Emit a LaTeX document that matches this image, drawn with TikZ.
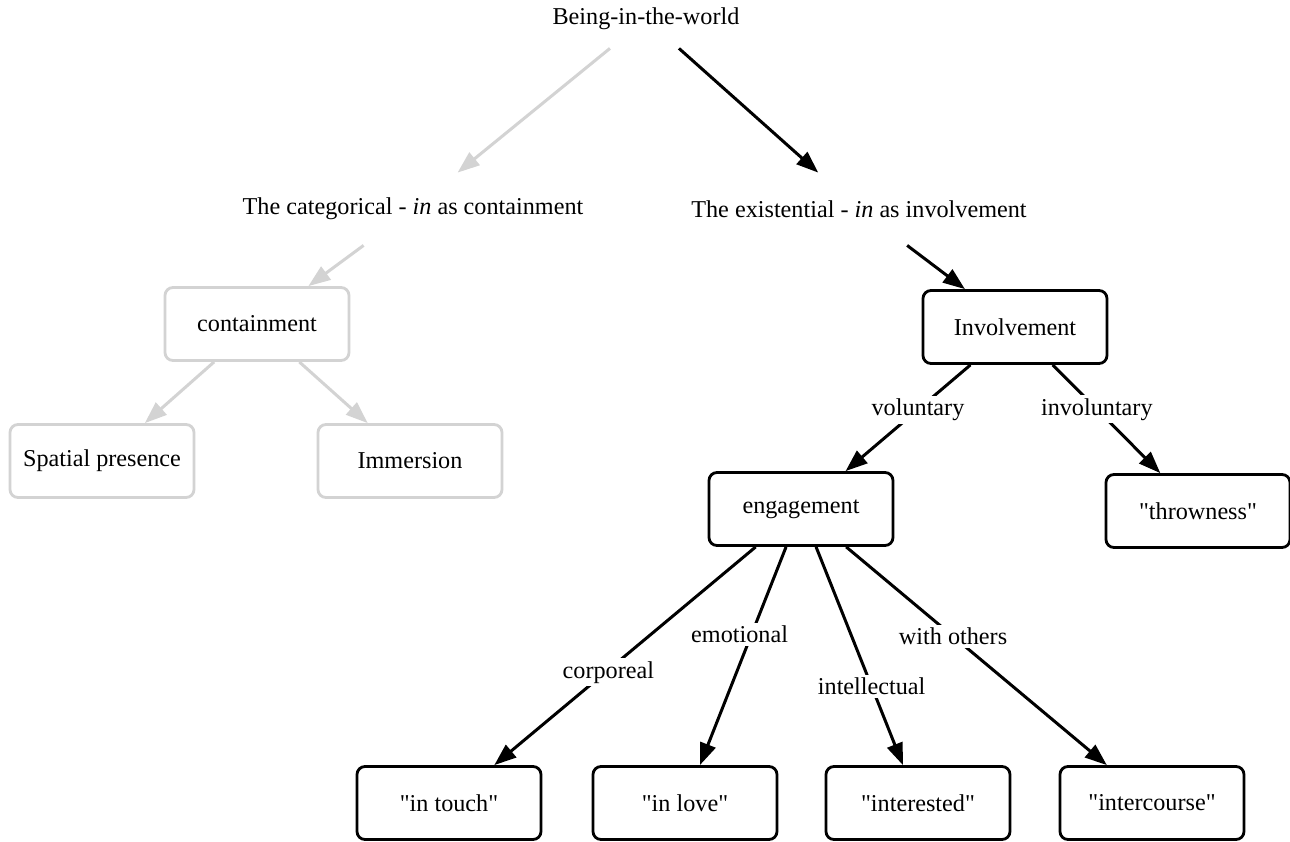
\documentclass[tikz,border=0pt]{standalone}
\usepackage{fontspec}
\setmainfont{Liberation Serif}[Ligatures=TeXOff]
\usetikzlibrary{arrows.meta}
\definecolor{lg}{HTML}{D3D3D3}
\begin{document}
\begin{tikzpicture}[x=0.5pt,y=0.5pt,
  every node/.style={font=\fontsize{12.1}{14}\selectfont},
  txt/.style={minimum height=36pt, inner xsep=2pt},
  box/.style={draw, rounded corners=4pt, line width=1.4pt, minimum width=92pt, minimum height=36.5pt},
  gbox/.style={box, draw=lg},
  conn/.style={line width=1.5pt, -{Triangle[length=11pt,width=8pt]}},
  gconn/.style={conn, draw=lg},
  lbl/.style={fill=white, inner sep=1.5pt}
]
\useasboundingbox (0,0) rectangle (1290,-841);
\fill[white] (0,0) rectangle (1290,-841);

% text nodes
\node[minimum height=29pt, inner xsep=2pt] (being) at (646,-19) {Being-in-the-world};
\node[txt] (cat) at (413,-209) {The categorical - \textit{in} as containment};
\node[txt] (exi) at (859,-209) {The existential - \textit{in} as involvement};

% grey branch
\node[gbox] (cont) at (257,-324) {containment};
\node[gbox] (spat) at (102,-461) {Spatial presence};
\node[gbox] (imm)  at (410,-461) {Immersion};

% black branch
\node[box] (inv)   at (1015,-327) {Involvement};
\node[box] (eng)   at (801,-509) {engagement};
\node[box] (thr)   at (1198,-511) {"throwness"};
\node[box] (touch) at (449,-803) {"in touch"};
\node[box] (love)  at (685,-803) {"in love"};
\node[box] (inter) at (918,-803) {"interested"};
\node[box] (course) at (1152,-803) {"intercourse"};

% connectors
\draw[gconn] (being) -- (cat);
\draw[conn]  (being) -- (exi);
\draw[gconn] (cat) -- (cont);
\draw[conn]  (exi) -- (inv);
\draw[gconn] (cont) -- (spat);
\draw[gconn] (cont) -- (imm);
\draw[conn] (inv) -- node[lbl, pos=0.42] {voluntary} (eng);
\draw[conn] (inv) -- node[lbl, pos=0.41] {involuntary} (thr);
\draw[conn] (eng) -- node[lbl, pos=0.575, xshift=1.5pt] {corporeal} (touch);
\draw[conn] (eng) -- node[lbl, pos=0.40, xshift=-6pt] {emotional} (love);
\draw[conn] (eng) -- node[lbl, pos=0.64] {intellectual} (inter);
\draw[conn] (eng) -- node[lbl, pos=0.41] {with others} (course);
\end{tikzpicture}
\end{document}
